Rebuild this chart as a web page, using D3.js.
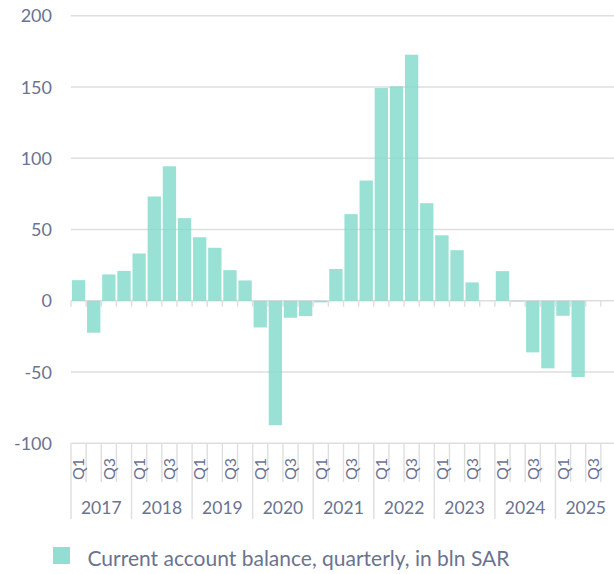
<!DOCTYPE html>
<html>
<head>
<meta charset="utf-8">
<script src="https://cdn.jsdelivr.net/npm/d3@7"></script>
<style>
  html, body { margin: 0; padding: 0; background: #fff; }
  svg { display: block; }
  text { font-family: Lato, "Noto Sans", sans-serif; fill: #6b7390; }
</style>
</head>
<body>
<svg id="chart" width="614" height="574"></svg>
<script>
// Quarterly current account balance, bln SAR
const years = ["2017", "2018", "2019", "2020", "2021", "2022", "2023", "2024", "2025"];
const quarters = ["Q1", "Q2", "Q3", "Q4"];
const values = [
  14.5, -22.4, 18.5, 21.0,     // 2017
  33.2, 73.2, 94.4, 58.0,      // 2018
  44.6, 37.2, 21.5, 14.3,      // 2019
  -18.7, -87.3, -11.9, -10.7,  // 2020
  -1.1, 22.3, 60.8, 84.4,      // 2021
  149.3, 150.5, 172.7, 68.5,   // 2022
  46.0, 35.5, 12.9, 0,         // 2023
  20.8, -0.5, -36.2, -47.4,    // 2024
  -10.5, -53.5, null, null     // 2025
];
const yTicks = [-100, -50, 0, 50, 100, 150, 200];
const seriesLabel = "Current account balance, quarterly, in bln SAR";

const periods = [];
years.forEach(yr => quarters.forEach(q => periods.push({ key: yr + q, year: yr, q })));
periods.forEach((p, i) => p.value = values[i]);

const svg = d3.select("#chart");
const plotLeft = 71, plotRight = 616, plotTop = 15.8, plotBottom = 443.3;

const x = d3.scaleBand()
  .domain(periods.map(p => p.key))
  .range([plotLeft, plotRight])
  .paddingInner(0.12)
  .paddingOuter(0.06);
const step = x.step();
const qStart = k => x(k) - step * x.paddingOuter();

const xYear = d3.scaleBand().domain(years).range([plotLeft, plotRight]);

const y = d3.scaleLinear().domain([-100, 200]).range([plotBottom, plotTop]);

const gridColor = "#dedede";

// horizontal gridlines
svg.append("g")
  .selectAll("line")
  .data(yTicks)
  .join("line")
  .attr("x1", plotLeft).attr("x2", 614)
  .attr("y1", d => y(d)).attr("y2", d => y(d))
  .attr("stroke", gridColor)
  .attr("stroke-width", 1.6);

// y-axis labels
svg.append("g")
  .selectAll("text")
  .data(yTicks)
  .join("text")
  .attr("x", 52)
  .attr("y", d => y(d))
  .attr("dy", "0.36em")
  .attr("text-anchor", "end")
  .attr("font-size", 18)
  .text(d => d);

// ticks along the zero line at every quarter boundary
svg.append("g")
  .selectAll("line")
  .data(periods)
  .join("line")
  .attr("x1", d => qStart(d.key)).attr("x2", d => qStart(d.key))
  .attr("y1", y(0)).attr("y2", y(0) + 6)
  .attr("stroke", gridColor)
  .attr("stroke-width", 1.4);

// bars
svg.append("g")
  .selectAll("rect")
  .data(periods.filter(p => p.value !== null))
  .join("rect")
  .attr("x", d => x(d.key))
  .attr("width", x.bandwidth())
  .attr("y", d => y(Math.max(0, d.value)))
  .attr("height", d => Math.abs(y(d.value) - y(0)))
  .attr("fill", "#7fd8ca")
  .attr("fill-opacity", 0.8);

// category axis: quarter separators and year separators
const axisG = svg.append("g");
axisG.selectAll("line.q")
  .data(periods)
  .join("line")
  .attr("class", "q")
  .attr("x1", d => qStart(d.key)).attr("x2", d => qStart(d.key))
  .attr("y1", plotBottom).attr("y2", d => d.q === "Q1" ? 519 : 482)
  .attr("stroke", gridColor)
  .attr("stroke-width", 1.4);

// quarter labels (odd quarters only)
axisG.selectAll("text.q")
  .data(periods.filter(p => p.q === "Q1" || p.q === "Q3"))
  .join("text")
  .attr("class", "q")
  .attr("transform", d => `translate(${x(d.key) + x.bandwidth() / 2},458) rotate(-90)`)
  .attr("dy", "0.36em")
  .attr("text-anchor", "end")
  .attr("font-size", 16)
  .text(d => d.q);

// year labels
axisG.selectAll("text.y")
  .data(years)
  .join("text")
  .attr("class", "y")
  .attr("x", d => xYear(d) + xYear.bandwidth() / 2)
  .attr("y", 514)
  .attr("text-anchor", "middle")
  .attr("font-size", 17.5)
  .text(d => d);

// legend
const legend = svg.append("g");
legend.append("rect")
  .attr("x", 53).attr("y", 547)
  .attr("width", 17).attr("height", 17)
  .attr("fill", "#7fd8ca")
  .attr("fill-opacity", 0.85);
legend.append("text")
  .attr("x", 87.5).attr("y", 566)
  .attr("font-size", 21)
  .text(seriesLabel);
</script>
</body>
</html>
